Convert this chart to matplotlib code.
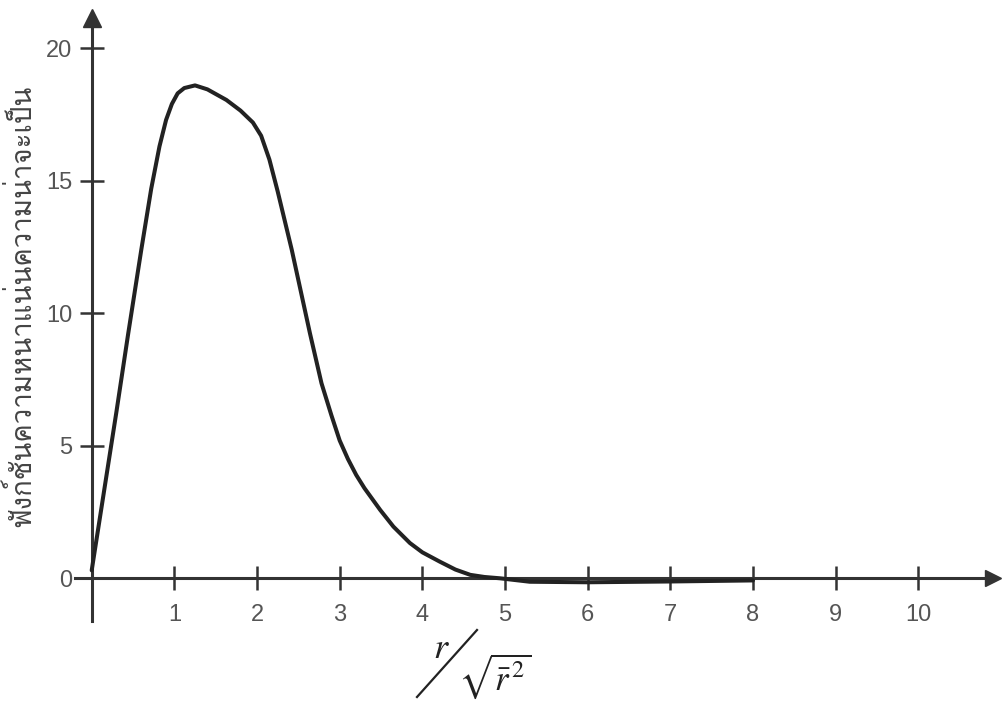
import matplotlib
matplotlib.use("Agg")
import matplotlib.pyplot as plt
from matplotlib import font_manager
from matplotlib.ft2font import FT2Font
from matplotlib.lines import Line2D

# ค่าที่อ่านจากกราฟ
r_ratio = [0.0, 0.16, 0.30, 0.44, 0.60, 0.72, 0.82, 0.90, 0.97, 1.04, 1.12, 1.25, 1.40,
           1.63, 1.80, 1.95, 2.05, 2.15, 2.25, 2.42, 2.64, 2.78, 2.90, 3.00, 3.10,
           3.20, 3.30, 3.49, 3.65, 3.85, 4.00, 4.21, 4.40, 4.58, 4.75, 4.94,
           5.30, 6.00, 7.00, 8.00]
density = [0.3, 3.5, 6.3, 9.2, 12.4, 14.7, 16.3, 17.3, 17.9, 18.3, 18.5, 18.6, 18.45,
           18.05, 17.65, 17.2, 16.7, 15.8, 14.6, 12.4, 9.25, 7.36, 6.15, 5.2, 4.5,
           3.9, 3.4, 2.58, 1.95, 1.33, 0.98, 0.63, 0.33, 0.13, 0.05, 0.0,
           -0.13, -0.15, -0.12, -0.08]
x_ticks = [1, 2, 3, 4, 5, 6, 7, 8, 9, 10]
y_ticks = [0, 5, 10, 15, 20]
y_label = "ฟังก์ชันความหนาแน่นความน่าจะเป็น"


def find_thai_font():
    # หาฟอนต์ที่มีอักษรไทย
    for f in font_manager.fontManager.ttflist:
        try:
            if 0x0E01 in FT2Font(f.fname).get_charmap():
                return f.name
        except Exception:
            pass
    return None


thai = find_thai_font()
plt.rcParams['font.family'] = ['Liberation Sans', 'DejaVu Sans']
plt.rcParams['mathtext.fontset'] = 'stix'

fig = plt.figure(figsize=(10.03, 7.01), dpi=100)
ax = fig.add_axes([0, 0, 1, 1])

W, H = 1003, 701
x0, xs = 91.7, 82.66   # pixel ของ x=0, pixel ต่อหน่วย
y0, ys = 578.3, 26.5
ax.set_xlim(-x0 / xs, (W - x0) / xs)
ax.set_ylim(-(H - y0) / ys, y0 / ys)

axis_col = '#333333'
for s in ['top', 'right']:
    ax.spines[s].set_visible(False)
ax.spines['left'].set_position(('data', 0))
ax.spines['bottom'].set_position(('data', 0))
ax.spines['left'].set_bounds(-1.6, 21.0)
ax.spines['bottom'].set_bounds(-0.2, 10.85)
for s in ['left', 'bottom']:
    ax.spines[s].set_color(axis_col)
    ax.spines[s].set_linewidth(2.2)
ax.plot([0], [21.14], marker='^', ms=13, color=axis_col, clip_on=False)
ax.plot([10.9], [0], marker='>', ms=12, color=axis_col, clip_on=False)

ax.set_xticks(x_ticks)
ax.set_yticks(y_ticks)
ax.tick_params(axis='both', direction='inout', length=17, width=1.8,
               color=axis_col, labelsize=17, labelcolor='#555555')
ax.tick_params(axis='y', pad=5.5)
ax.tick_params(axis='x', pad=10)

ax.plot(r_ratio, density, color='#222222', lw=2.9, solid_capstyle='round',
        solid_joinstyle='round', zorder=3)

# ป้ายแกน y (ภาษาไทย)
fam = [thai, 'DejaVu Sans'] if thai else ['DejaVu Sans']
t = fig.text(21 / W, 1 - 306 / H, y_label, rotation=90, ha='center', va='center',
             fontsize=16, color='#444444', family=fam)
fig.canvas.draw()
h = t.get_window_extent().height
t.set_fontsize(16 * 442 / h)

# ป้ายแกน x : r / sqrt(r̄²)
fig.text(441 / W, 1 - 648 / H, r'$r$', ha='center', va='center', fontsize=26,
         color='#222222')
fig.add_artist(Line2D([417 / W, 477 / W], [1 - 697 / H, 1 - 630 / H],
                      transform=fig.transFigure, color='#222222', lw=1.6))
fig.text(495 / W, 1 - 676 / H, r'$\sqrt{\bar{r}^{\,2}}$', ha='center', va='center',
         fontsize=25, color='#222222')

fig.savefig('out.png', dpi=100)
